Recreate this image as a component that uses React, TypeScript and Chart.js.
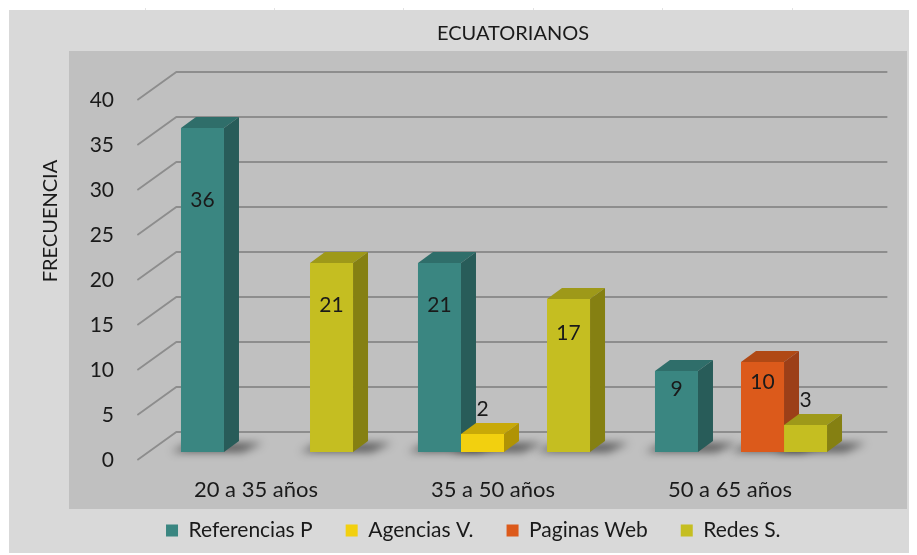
import React, { useEffect, useRef } from 'react';
import { Chart, registerables } from 'chart.js';

Chart.register(...registerables);

// ---------- data ----------
const chartTitle = 'ECUATORIANOS';
const yAxisTitle = 'FRECUENCIA';
const categories = ['20 a 35 años', '35 a 50 años', '50 a 65 años'];
const seriesNames = ['Referencias P', 'Agencias V.', 'Paginas Web', 'Redes S.'];
const referenciasP: (number | null)[] = [36, 21, 9];
const agenciasV: (number | null)[] = [null, 2, null];
const paginasWeb: (number | null)[] = [null, null, 10];
const redesS: (number | null)[] = [21, 17, 3];
const yMin = 0;
const yMax = 40;
const yStep = 5;

// ---------- styles ----------
const FONT = 'Lato';
const TEXT = '#1a1a1a';
const frontColors = ['#3a8681', '#f2d00f', '#dc5a1b', '#c5be21'];
const topColors = ['#2f6e6a', '#c8a908', '#b04915', '#9e9919'];
const sideColors = ['#285c59', '#b09305', '#9c3f18', '#858012'];

// 3D projection constants (pixels)
const BAR_DX = 15;
const BAR_DY = 11;
const SLOPE = 39 / 28;
const FLOOR_FRONT_DY = 8;
const WALL_DY = 20;

function poly(ctx: CanvasRenderingContext2D, pts: number[][]) {
  ctx.beginPath();
  ctx.moveTo(pts[0][0], pts[0][1]);
  for (let i = 1; i < pts.length; i++) ctx.lineTo(pts[i][0], pts[i][1]);
  ctx.closePath();
  ctx.fill();
}

const threeD = {
  id: 'threeD',
  beforeDraw(chart: any) {
    const { ctx, width, height } = chart;
    ctx.save();
    ctx.fillStyle = '#d9d9d9';
    ctx.fillRect(0, 0, width, height);
    ctx.fillStyle = '#c0c0c0';
    ctx.fillRect(60, 41, 838, 458);
    ctx.restore();
  },
  beforeDatasetsDraw(chart: any) {
    const { ctx, chartArea, scales } = chart;
    const y = scales.y;
    const wallDx = WALL_DY * SLOPE;
    const floorDx = FLOOR_FRONT_DY * SLOPE;
    ctx.save();
    // gridlines: diagonal side wall + back wall
    ctx.strokeStyle = '#8d8d8d';
    ctx.lineWidth = 1.8;
    y.ticks.forEach((t: any) => {
      const py = y.getPixelForValue(t.value);
      ctx.beginPath();
      ctx.moveTo(chartArea.left - floorDx, py + FLOOR_FRONT_DY);
      ctx.lineTo(chartArea.left + wallDx, py - WALL_DY);
      ctx.lineTo(chartArea.right + wallDx, py - WALL_DY);
      ctx.stroke();
    });
    // floor shadows
    ctx.save();
    ctx.filter = 'blur(4px)';
    ctx.fillStyle = 'rgba(0,0,0,0.55)';
    chart.data.datasets.forEach((ds: any, i: number) => {
      const meta = chart.getDatasetMeta(i);
      meta.data.forEach((bar: any, j: number) => {
        if (ds.data[j] == null) return;
        const { x, base, width } = bar.getProps(['x', 'base', 'width'], true);
        const l = x - width / 2;
        const r = x + width / 2;
        poly(ctx, [
          [l - 10, base],
          [r + 18, base],
          [r + BAR_DX + 24, base - BAR_DY + 2],
          [l + BAR_DX - 6, base - BAR_DY + 2],
        ]);
      });
    });
    ctx.restore();
    // top and side faces
    chart.data.datasets.forEach((ds: any, i: number) => {
      const meta = chart.getDatasetMeta(i);
      meta.data.forEach((bar: any, j: number) => {
        if (ds.data[j] == null) return;
        const { x, y: top, base, width } = bar.getProps(['x', 'y', 'base', 'width'], true);
        const l = x - width / 2;
        const r = x + width / 2;
        ctx.fillStyle = topColors[i];
        poly(ctx, [
          [l, top],
          [l + BAR_DX, top - BAR_DY],
          [r + BAR_DX, top - BAR_DY],
          [r, top],
        ]);
        ctx.fillStyle = sideColors[i];
        poly(ctx, [
          [r, top],
          [r + BAR_DX, top - BAR_DY],
          [r + BAR_DX, base - BAR_DY],
          [r, base],
        ]);
      });
    });
    ctx.restore();
  },
  afterDatasetsDraw(chart: any) {
    const { ctx, scales } = chart;
    const y = scales.y;
    ctx.save();
    ctx.font = `21px ${FONT}`;
    ctx.fillStyle = TEXT;
    ctx.textAlign = 'center';
    ctx.textBaseline = 'middle';
    chart.data.datasets.forEach((ds: any, i: number) => {
      const meta = chart.getDatasetMeta(i);
      meta.data.forEach((bar: any, j: number) => {
        const v = ds.data[j];
        if (v == null) return;
        const { x, y: top } = bar.getProps(['x', 'y'], true);
        const ly = v >= 5 ? y.getPixelForValue((v * 7) / 9) : top - 25;
        ctx.fillText(String(v), x, ly);
      });
    });
    ctx.restore();
  },
  afterDraw(chart: any) {
    const { ctx } = chart;
    ctx.save();
    ctx.fillStyle = TEXT;
    ctx.textAlign = 'center';
    ctx.textBaseline = 'middle';
    ctx.font = `20px ${FONT}`;
    ctx.fillText(chartTitle, 504, 24);
    ctx.translate(42, 211);
    ctx.rotate(-Math.PI / 2);
    ctx.fillText(yAxisTitle, 0, 0);
    ctx.restore();
  },
};

export default function App() {
  const canvasRef = useRef<HTMLCanvasElement | null>(null);

  useEffect(() => {
    if (!canvasRef.current) return;
    const seriesData = [referenciasP, agenciasV, paginasWeb, redesS];
    const chart = new Chart(canvasRef.current, {
      type: 'bar',
      data: {
        labels: categories,
        datasets: seriesNames.map((name, i) => ({
          label: name,
          data: seriesData[i],
          backgroundColor: frontColors[i],
          borderWidth: 0,
          categoryPercentage: 0.726,
          barPercentage: 1,
        })),
      },
      options: {
        responsive: false,
        animation: false,
        devicePixelRatio: 1,
        layout: { padding: { left: 78, right: 57.5, top: 82, bottom: 4 } },
        plugins: {
          legend: {
            position: 'bottom',
            labels: {
              font: { family: FONT, size: 21 },
              color: TEXT,
              boxWidth: 12,
              boxHeight: 12,
              padding: 33,
            },
          },
          title: { display: false },
          tooltip: { enabled: false },
        },
        scales: {
          x: {
            grid: { display: false, drawTicks: false },
            border: { display: false },
            ticks: {
              font: { family: FONT, size: 22 },
              color: TEXT,
              mirror: true,
              padding: -51.2,
              labelOffset: -11,
              maxRotation: 0,
            },
            afterFit: (s: any) => {
              s.height = 35;
            },
          },
          y: {
            min: yMin,
            max: yMax,
            grid: { display: false, drawTicks: false },
            border: { display: false },
            ticks: {
              stepSize: yStep,
              font: { family: FONT, size: 21 },
              color: TEXT,
              padding: 34.5,
              labelOffset: 8.5,
            },
            afterFit: (s: any) => {
              s.width = 61.5;
            },
          },
        },
      } as any,
      plugins: [threeD],
    });
    return () => chart.destroy();
  }, []);

  const sheetLines = [145, 274, 403, 533, 662, 792];

  return (
    <div style={{ position: 'relative', left: 1, top: 2, width: 908, height: 545 }}>
      {sheetLines.map((x) => (
        <div
          key={x}
          style={{ position: 'absolute', left: x - 9, top: -10, width: 1, height: 10, background: '#e2e2e2' }}
        />
      ))}
      <canvas ref={canvasRef} width={908} height={545} style={{ display: 'block' }} />
    </div>
  );
}
